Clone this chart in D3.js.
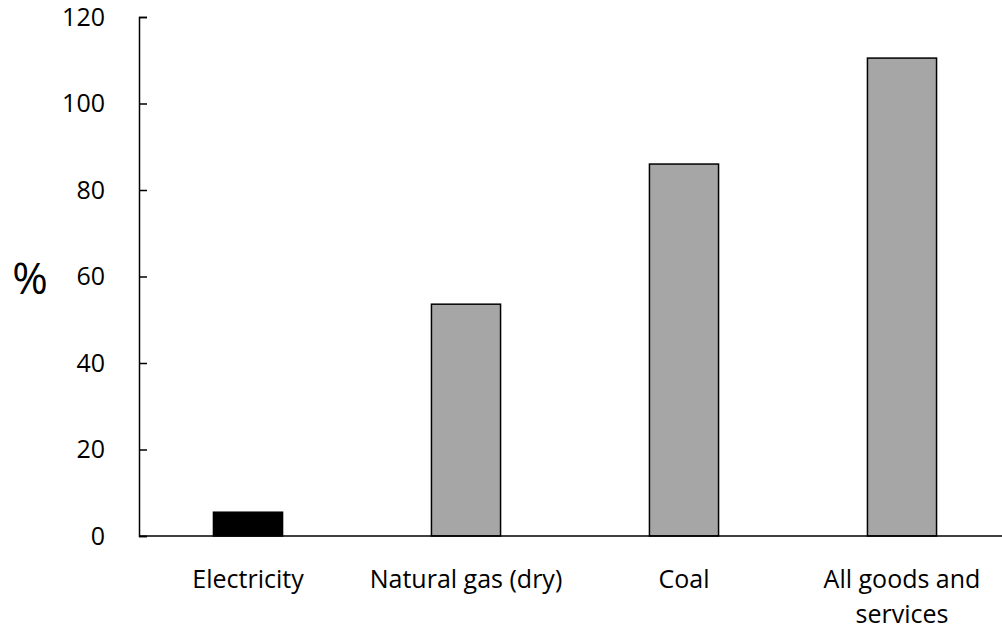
<!DOCTYPE html>
<html>
<head>
<meta charset="utf-8">
<script src="https://cdn.jsdelivr.net/npm/d3@7"></script>
<style>
  body { margin: 0; background: #fff; }
  text { font-family: "Open Sans", "Noto Sans", sans-serif; fill: #000; }
</style>
</head>
<body>
<script>
var categories = ['Electricity', 'Natural gas (dry)', 'Coal', 'All goods and services'];
var values = [5.5, 53.6, 86.0, 110.5];
var barColors = ['#000000', '#a6a6a6', '#a6a6a6', '#a6a6a6'];
var yTicks = [0, 20, 40, 60, 80, 100, 120];

var width = 1002, height = 629;
var svg = d3.select('body').append('svg').attr('width', width).attr('height', height);

var x = d3.scaleBand().domain(categories).range([139, 1011]).paddingInner(0.683).paddingOuter(0.3415);
var y = d3.scaleLinear().domain([0, 120]).range([536, 17]);

// bars
svg.selectAll('rect.bar').data(values).enter().append('rect')
  .attr('class', 'bar')
  .attr('x', function(d, i) { return x(categories[i]); })
  .attr('y', function(d) { return y(d); })
  .attr('width', x.bandwidth())
  .attr('height', function(d) { return y(0) - y(d); })
  .attr('fill', function(d, i) { return barColors[i]; })
  .attr('stroke', '#000')
  .attr('stroke-width', 1.5);

// y axis, ticks pointing inward
var yAxis = d3.axisLeft(y).tickValues(yTicks).tickSize(-8).tickPadding(34);
var gy = svg.append('g').attr('transform', 'translate(139,0)').call(yAxis);
gy.select('.domain').attr('stroke', '#000').attr('stroke-width', 1.5);
gy.selectAll('.tick line').attr('stroke', '#000').attr('stroke-width', 1.5);
gy.selectAll('.tick text').style('font-size', '25px').style('font-family', '"Open Sans", sans-serif');

// x axis line
svg.append('line').attr('x1', 139).attr('x2', 1011).attr('y1', y(0)).attr('y2', y(0))
  .attr('stroke', '#000').attr('stroke-width', 1.5);

// category labels
var labelLines = {'All goods and services': ['All goods and', 'services']};
categories.forEach(function(c) {
  var lines = labelLines[c] || [c];
  var t = svg.append('text')
    .attr('x', x(c) + x.bandwidth() / 2)
    .attr('y', 588)
    .attr('text-anchor', 'middle')
    .style('font-size', '25px');
  lines.forEach(function(l, j) {
    t.append('tspan').attr('x', x(c) + x.bandwidth() / 2).attr('dy', j === 0 ? 0 : 35).text(l);
  });
});

// y label
svg.append('text').attr('x', 30).attr('y', 294).attr('text-anchor', 'middle')
  .style('font-size', '43px').text('%');
</script>
</body>
</html>
